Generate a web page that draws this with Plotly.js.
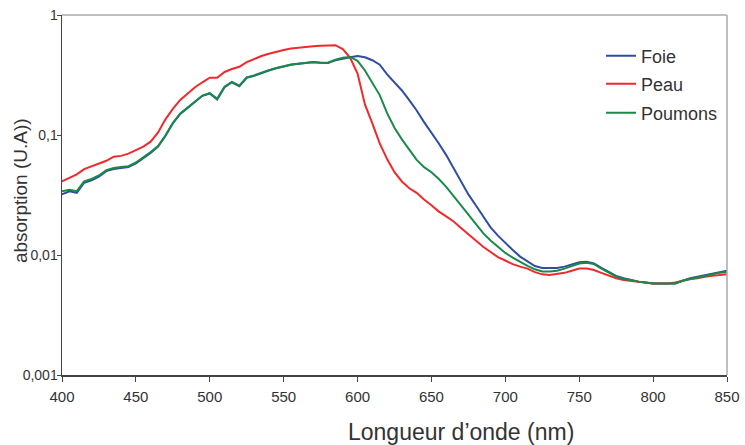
<!DOCTYPE html>
<html>
<head>
<meta charset="utf-8">
<script src="https://cdn.plot.ly/plotly-3.0.1.min.js"></script>
<style>html,body{margin:0;padding:0;background:#fff;}#chart{width:745px;height:445px;}</style>
</head>
<body>
<div id="chart"></div>
<script>
var wavelength = [400,405,410,415,420,425,430,435,440,445,450,455,460,465,470,475,480,485,490,495,500,505,510,515,520,525,530,535,540,545,550,555,560,565,570,575,580,585,590,595,600,605,610,615,620,625,630,635,640,645,650,655,660,665,670,675,680,685,690,695,700,705,710,715,720,725,730,735,740,745,750,755,760,765,770,775,780,785,790,795,800,805,810,815,820,825,830,835,840,845,850];

var foie = [0.032,0.034,0.033,0.040,0.042,0.045,0.050,0.052,0.053,0.054,0.058,0.064,0.071,0.080,0.098,0.125,0.150,0.168,0.190,0.212,0.222,0.198,0.250,0.275,0.255,0.300,0.312,0.330,0.345,0.360,0.372,0.385,0.392,0.398,0.405,0.400,0.398,0.420,0.435,0.445,0.455,0.445,0.420,0.385,0.320,0.275,0.235,0.195,0.160,0.128,0.105,0.085,0.068,0.053,0.041,0.032,0.026,0.021,0.0170,0.0145,0.0125,0.0110,0.0097,0.0088,0.0081,0.0078,0.0078,0.0078,0.0080,0.0084,0.0087,0.0088,0.0085,0.0078,0.0072,0.0067,0.0064,0.0062,0.0060,0.0059,0.0058,0.0058,0.0058,0.0058,0.0061,0.0064,0.0066,0.0068,0.0070,0.0072,0.0074];

var peau = [0.041,0.044,0.047,0.052,0.055,0.058,0.061,0.066,0.067,0.070,0.075,0.080,0.088,0.105,0.135,0.165,0.196,0.222,0.250,0.275,0.300,0.300,0.335,0.355,0.370,0.405,0.430,0.455,0.475,0.495,0.510,0.525,0.535,0.545,0.550,0.555,0.555,0.560,0.520,0.440,0.325,0.180,0.125,0.085,0.063,0.049,0.041,0.036,0.033,0.029,0.026,0.023,0.021,0.019,0.0168,0.0150,0.0132,0.0117,0.0106,0.0096,0.0090,0.0084,0.0080,0.0077,0.0072,0.0069,0.0068,0.0069,0.0071,0.0074,0.0077,0.0077,0.0075,0.0071,0.0067,0.0064,0.0062,0.0061,0.0060,0.0059,0.0058,0.0058,0.0058,0.0059,0.0061,0.0063,0.0064,0.0066,0.0067,0.0068,0.0069];

var poumons = [0.034,0.035,0.034,0.041,0.043,0.046,0.051,0.053,0.054,0.055,0.059,0.065,0.072,0.081,0.099,0.126,0.151,0.169,0.191,0.213,0.223,0.200,0.252,0.277,0.258,0.302,0.314,0.332,0.347,0.362,0.374,0.386,0.393,0.398,0.404,0.400,0.400,0.425,0.440,0.447,0.415,0.345,0.275,0.215,0.152,0.115,0.092,0.075,0.062,0.054,0.049,0.043,0.037,0.031,0.026,0.0215,0.018,0.0152,0.0132,0.0117,0.0104,0.0095,0.0087,0.0081,0.0076,0.0073,0.0073,0.0074,0.0077,0.0081,0.0085,0.0086,0.0084,0.0077,0.0071,0.0066,0.0063,0.0062,0.0060,0.0059,0.0058,0.0058,0.0058,0.0058,0.0061,0.0063,0.0065,0.0067,0.0069,0.0071,0.0072];

var yTickVals = [0.001, 0.01, 0.1, 1];
var yTickText = ['0,001', '0,01', '0,1', '1'];
var xTickVals = [400,450,500,550,600,650,700,750,800,850];

var font = 'Liberation Sans, Arial, sans-serif';
var traces = [
  {x: wavelength, y: foie, name: 'Foie', mode: 'lines', line: {color: '#2f4ea0', width: 2}, legend: 'legend'},
  {x: wavelength, y: peau, name: 'Peau', mode: 'lines', line: {color: '#ee2a2e', width: 2}, legend: 'legend2'},
  {x: wavelength, y: poumons, name: 'Poumons', mode: 'lines', line: {color: '#1a8a48', width: 2}, legend: 'legend3'}
];

function leg(y) {
  return {x: 0.8105, y: y, xanchor: 'left', yanchor: 'top', font: {size: 18, color: '#333'}, bgcolor: 'rgba(0,0,0,0)', itemwidth: 30};
}

var layout = {
  width: 745, height: 445,
  margin: {l: 62, r: 18, t: 15, b: 70, pad: 0},
  paper_bgcolor: '#fff', plot_bgcolor: '#fff',
  font: {family: font, color: '#333', size: 15},
  showlegend: true,
  legend: leg(0.9375),
  legend2: leg(0.8597),
  legend3: leg(0.779),
  xaxis: {
    range: [400, 850], tickvals: xTickVals, showgrid: false, zeroline: false,
    showline: true, linecolor: '#444', linewidth: 1.5, ticks: 'outside', ticklen: 5, tickcolor: '#444',
    tickfont: {size: 15, color: '#333'}, ticklabelstandoff: 2
  },
  yaxis: {
    type: 'log', range: [-3, 0], tickvals: yTickVals, ticktext: yTickText, showgrid: false, zeroline: false,
    showline: true, linecolor: '#444', linewidth: 1.5, ticks: 'outside', ticklen: 4, tickcolor: '#444',
    tickfont: {size: 14, color: '#333'}, ticklabelstandoff: -4
  },
  shapes: [
    {type: 'line', xref: 'paper', yref: 'paper', x0: 0, x1: 1, y0: 1, y1: 1, line: {color: '#aaa', width: 1.5}},
    {type: 'line', xref: 'paper', yref: 'paper', x0: 1, x1: 1, y0: 0, y1: 1, line: {color: '#aaa', width: 1.5}}
  ],
  annotations: [
    {text: 'Longueur d’onde (nm)', xref: 'paper', yref: 'paper', x: 0.6, y: -0.158, xanchor: 'center', yanchor: 'middle', showarrow: false, font: {size: 23, color: '#333'}},
    {text: 'absorption (U.A))', xref: 'paper', yref: 'paper', x: -0.063, y: 0.5, xanchor: 'center', yanchor: 'middle', textangle: -90, showarrow: false, font: {size: 19, color: '#333'}, yshift: 4}
  ]
};

Plotly.newPlot('chart', traces, layout, {displayModeBar: false, staticPlot: true});
</script>
</body>
</html>
